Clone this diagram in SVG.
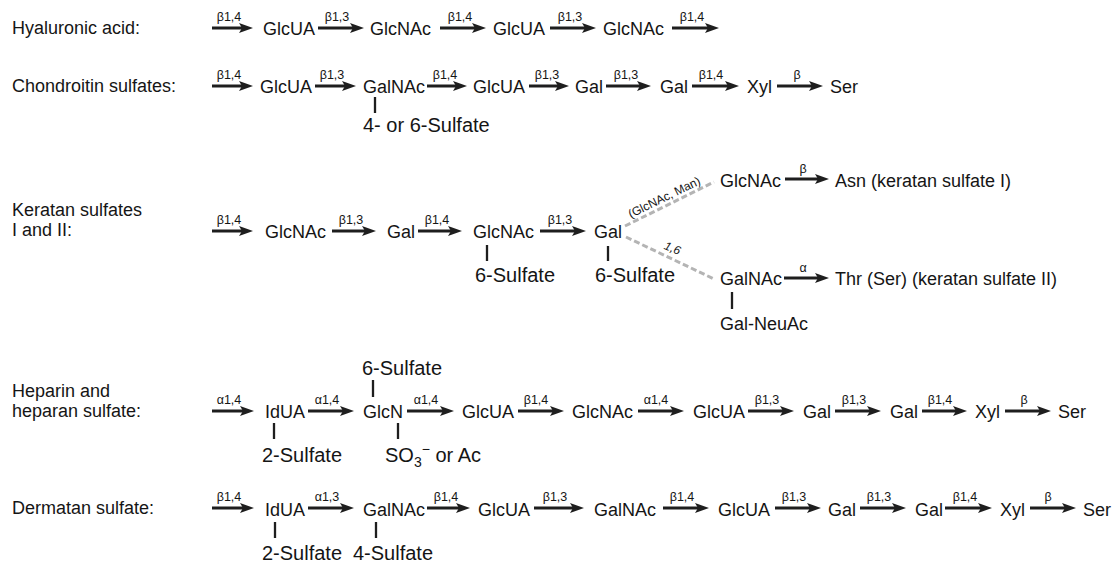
<svg xmlns="http://www.w3.org/2000/svg" width="1117" height="566" viewBox="0 0 1117 566">
<style>
text{font-family:"Liberation Sans",Arial,Helvetica,sans-serif;fill:#151515}
.lbl{font-size:18px}
.s{font-size:18px}
.sul{font-size:20px}
.k{font-size:12.5px;text-anchor:middle}
.a{stroke:#1e1e1e;stroke-width:3;fill:none;marker-end:url(#ah)}
.st{stroke:#1e1e1e;stroke-width:2.3}
.d{stroke:#b4b4b4;stroke-width:3;stroke-dasharray:6 3;fill:none}
.sm{font-size:12px;text-anchor:middle}
</style>
<defs>
<marker id="ah" markerUnits="userSpaceOnUse" markerWidth="14" markerHeight="10" refX="8" refY="5" orient="auto">
<path d="M0,0 L14,5 L0,10 L3,5 Z" fill="#1e1e1e"/>
</marker>
</defs>
<rect width="1117" height="566" fill="#fff"/>

<g id="row-labels">
<text class="lbl" x="12" y="34">Hyaluronic acid:</text>
<text class="lbl" x="12" y="92">Chondroitin sulfates:</text>
<text class="lbl" x="12" y="216">Keratan sulfates</text>
<text class="lbl" x="12" y="236">I and II:</text>
<text class="lbl" x="12" y="397">Heparin and</text>
<text class="lbl" x="12" y="417">heparan sulfate:</text>
<text class="lbl" x="12" y="514">Dermatan sulfate:</text>
</g>

<g id="connectors">
<!-- Row 1 -->
<line class="a" x1="212" y1="28" x2="247" y2="28"/>
<line class="a" x1="318" y1="28" x2="358" y2="28"/>
<line class="a" x1="440" y1="28" x2="480" y2="28"/>
<line class="a" x1="550" y1="28" x2="590" y2="28"/>
<line class="a" x1="672" y1="28" x2="713" y2="28"/>
<text class="k" x="229" y="21">β1,4</text>
<text class="k" x="337" y="21">β1,3</text>
<text class="k" x="460" y="21">β1,4</text>
<text class="k" x="570" y="21">β1,3</text>
<text class="k" x="692" y="21">β1,4</text>
<!-- Row 2 -->
<line class="a" x1="212" y1="86" x2="247" y2="86"/>
<line class="a" x1="315" y1="86" x2="350" y2="86"/>
<line class="a" x1="427" y1="86" x2="461" y2="86"/>
<line class="a" x1="529" y1="86" x2="563" y2="86"/>
<line class="a" x1="606" y1="86" x2="645" y2="86"/>
<line class="a" x1="692" y1="86" x2="733" y2="86"/>
<line class="a" x1="777" y1="86" x2="817" y2="86"/>
<text class="k" x="229" y="79">β1,4</text>
<text class="k" x="332" y="79">β1,3</text>
<text class="k" x="445" y="79">β1,4</text>
<text class="k" x="547" y="79">β1,3</text>
<text class="k" x="626" y="79">β1,3</text>
<text class="k" x="711" y="79">β1,4</text>
<text class="k" x="797" y="79">β</text>
<line class="st" x1="375" y1="97" x2="375" y2="113"/>
<!-- Row 3 -->
<line class="a" x1="212" y1="231" x2="247" y2="231"/>
<line class="a" x1="332" y1="231" x2="370" y2="231"/>
<line class="a" x1="418" y1="231" x2="456" y2="231"/>
<line class="a" x1="540" y1="231" x2="580" y2="231"/>
<text class="k" x="229" y="224">β1,4</text>
<text class="k" x="351" y="224">β1,3</text>
<text class="k" x="437" y="224">β1,4</text>
<text class="k" x="560" y="224">β1,3</text>
<line class="st" x1="487" y1="245" x2="487" y2="261"/>
<line class="st" x1="608" y1="246" x2="608" y2="261"/>
<line class="d" x1="625" y1="226" x2="714" y2="182"/>
<line class="d" x1="626" y1="237" x2="714" y2="279"/>
<text class="sm" transform="translate(666,201) rotate(-26)">(GlcNAc, Man)</text>
<text class="sm" font-style="italic" transform="translate(671,252) rotate(22)">1,6</text>
<line class="a" x1="785" y1="179" x2="823" y2="179"/>
<text class="k" x="803" y="173">β</text>
<line class="a" x1="784" y1="278" x2="823" y2="278"/>
<text class="k" x="803" y="272">α</text>
<line class="st" x1="732" y1="292" x2="732" y2="309"/>
<!-- Row 4 -->
<line class="a" x1="212" y1="411" x2="248" y2="411"/>
<line class="a" x1="308" y1="411" x2="348" y2="411"/>
<line class="a" x1="407" y1="411" x2="448" y2="411"/>
<line class="a" x1="518" y1="411" x2="558" y2="411"/>
<line class="a" x1="638" y1="411" x2="678" y2="411"/>
<line class="a" x1="748" y1="411" x2="788" y2="411"/>
<line class="a" x1="835" y1="411" x2="875" y2="411"/>
<line class="a" x1="922" y1="411" x2="961" y2="411"/>
<line class="a" x1="1005" y1="411" x2="1045" y2="411"/>
<text class="k" x="229" y="404">α1,4</text>
<text class="k" x="327" y="404">α1,4</text>
<text class="k" x="426" y="404">α1,4</text>
<text class="k" x="536" y="404">β1,4</text>
<text class="k" x="656" y="404">α1,4</text>
<text class="k" x="767" y="404">β1,3</text>
<text class="k" x="854" y="404">β1,3</text>
<text class="k" x="940" y="404">β1,4</text>
<text class="k" x="1024" y="404">β</text>
<line class="st" x1="373" y1="380" x2="373" y2="397"/>
<line class="st" x1="274" y1="423" x2="274" y2="439"/>
<line class="st" x1="398" y1="423" x2="398" y2="439"/>
<!-- Row 5 -->
<line class="a" x1="212" y1="508" x2="248" y2="508"/>
<line class="a" x1="308" y1="508" x2="348" y2="508"/>
<line class="a" x1="427" y1="508" x2="464" y2="508"/>
<line class="a" x1="534" y1="508" x2="578" y2="508"/>
<line class="a" x1="663" y1="508" x2="703" y2="508"/>
<line class="a" x1="775" y1="508" x2="815" y2="508"/>
<line class="a" x1="860" y1="508" x2="900" y2="508"/>
<line class="a" x1="945" y1="508" x2="986" y2="508"/>
<line class="a" x1="1030" y1="508" x2="1070" y2="508"/>
<text class="k" x="229" y="501">β1,4</text>
<text class="k" x="327" y="501">α1,3</text>
<text class="k" x="446" y="501">β1,4</text>
<text class="k" x="555" y="501">β1,3</text>
<text class="k" x="682" y="501">β1,4</text>
<text class="k" x="794" y="501">β1,3</text>
<text class="k" x="879" y="501">β1,3</text>
<text class="k" x="965" y="501">β1,4</text>
<text class="k" x="1048" y="501">β</text>
<line class="st" x1="275" y1="522" x2="275" y2="538"/>
<line class="st" x1="376" y1="522" x2="376" y2="538"/>
</g>

<g id="hyaluronic">
<g id="h1"><text class="s" x="263" y="35">GlcUA</text></g>
<g id="h2"><text class="s" x="370" y="35">GlcNAc</text></g>
<g id="h3"><text class="s" x="493" y="35">GlcUA</text></g>
<g id="h4"><text class="s" x="603" y="35">GlcNAc</text></g>
</g>

<g id="chondroitin">
<g id="c1"><text class="s" x="260" y="93">GlcUA</text></g>
<g id="c2"><text class="s" x="363" y="93">GalNAc</text></g>
<g id="c3"><text class="s" x="473" y="93">GlcUA</text></g>
<g id="c4"><text class="s" x="575" y="93">Gal</text></g>
<g id="c5"><text class="s" x="660" y="93">Gal</text></g>
<g id="c6"><text class="s" x="747" y="93">Xyl</text></g>
<g id="c7"><text class="s" x="830" y="93">Ser</text></g>
<g id="c-sulf"><text class="sul" x="363" y="132">4- or 6-Sulfate</text></g>
</g>

<g id="keratan">
<g id="k1"><text class="s" x="265" y="238">GlcNAc</text></g>
<g id="k2"><text class="s" x="387" y="238">Gal</text></g>
<g id="k3"><text class="s" x="473" y="238">GlcNAc</text></g>
<g id="k4"><text class="s" x="594" y="238">Gal</text></g>
<g id="k-sulf1"><text class="sul" x="475" y="282">6-Sulfate</text></g>
<g id="k-sulf2"><text class="sul" x="595" y="282">6-Sulfate</text></g>
<g id="k5"><text class="s" x="720" y="187">GlcNAc</text></g>
<g id="k6"><text class="s" x="835" y="187">Asn (keratan sulfate I)</text></g>
<g id="k7"><text class="s" x="720" y="285">GalNAc</text></g>
<g id="k8"><text class="s" x="835" y="285">Thr (Ser) (keratan sulfate II)</text></g>
<g id="k9"><text class="s" x="720" y="330">Gal-NeuAc</text></g>
</g>

<g id="heparin">
<g id="p-sulf6"><text class="sul" x="362" y="375">6-Sulfate</text></g>
<g id="p1"><text class="s" x="265" y="418">IdUA</text></g>
<g id="p2"><text class="s" x="363" y="418">GlcN</text></g>
<g id="p3"><text class="s" x="462" y="418">GlcUA</text></g>
<g id="p4"><text class="s" x="572" y="418">GlcNAc</text></g>
<g id="p5"><text class="s" x="693" y="418">GlcUA</text></g>
<g id="p6"><text class="s" x="803" y="418">Gal</text></g>
<g id="p7"><text class="s" x="890" y="418">Gal</text></g>
<g id="p8"><text class="s" x="975" y="418">Xyl</text></g>
<g id="p9"><text class="s" x="1058" y="418">Ser</text></g>
<g id="p-sulf2"><text class="sul" x="262" y="462">2-Sulfate</text></g>
<g id="p-so3"><text class="sul" x="385" y="462">SO<tspan font-size="14" dy="5">3</tspan><tspan font-size="14" dy="-13">−</tspan><tspan dy="8"> or Ac</tspan></text></g>
</g>

<g id="dermatan">
<g id="d1"><text class="s" x="265" y="516">IdUA</text></g>
<g id="d2"><text class="s" x="363" y="516">GalNAc</text></g>
<g id="d3"><text class="s" x="478" y="516">GlcUA</text></g>
<g id="d4"><text class="s" x="594" y="516">GalNAc</text></g>
<g id="d5"><text class="s" x="718" y="516">GlcUA</text></g>
<g id="d6"><text class="s" x="828" y="516">Gal</text></g>
<g id="d7"><text class="s" x="915" y="516">Gal</text></g>
<g id="d8"><text class="s" x="1000" y="516">Xyl</text></g>
<g id="d9"><text class="s" x="1083" y="516">Ser</text></g>
<g id="d-sulf2"><text class="sul" x="262" y="560">2-Sulfate</text></g>
<g id="d-sulf4"><text class="sul" x="353" y="560">4-Sulfate</text></g>
</g>
</svg>
